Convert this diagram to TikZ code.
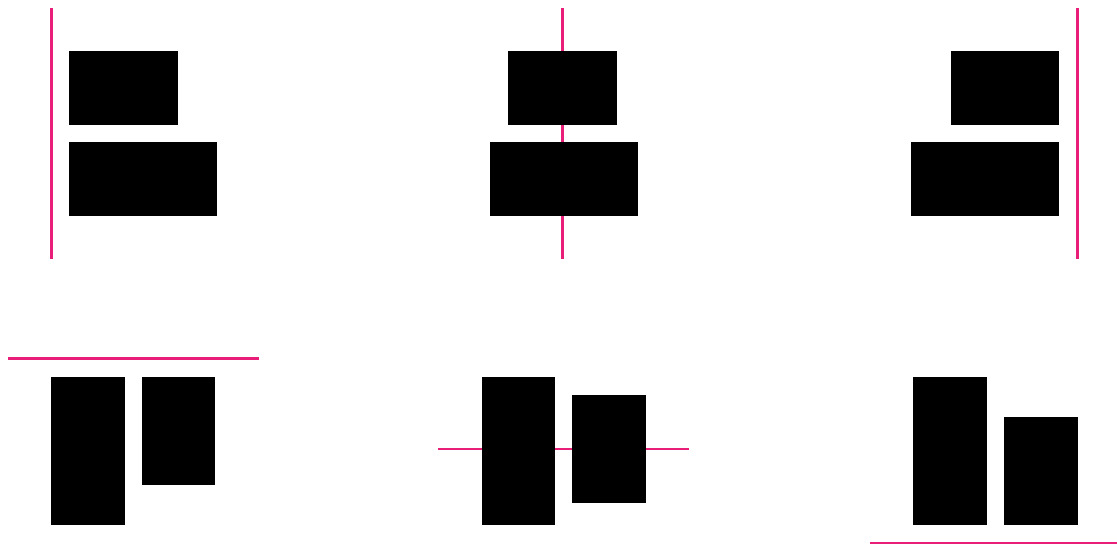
\documentclass[tikz,border=0pt]{standalone}
\definecolor{guide}{RGB}{233,30,120}
\tikzset{
  blk/.style={fill=black,draw=none},
  guideline/.style={draw=guide,line width=2.6pt}
}
\begin{document}
\begin{tikzpicture}[x=1pt,y=-1pt]
\useasboundingbox (0,0) rectangle (1117,546);
% panel 1: left aligned
\draw[guideline] (51.3,8) coordinate (l1a) -- (51.3,259) coordinate (l1b);
\fill[blk] (69.3,51.3) rectangle (177.7,125.3) coordinate (r1a);
\fill[blk] (69.3,141.7) rectangle (217.3,215.7) coordinate (r1b);
% panel 2: centered
\draw[guideline] (562.7,8) coordinate (l2a) -- (562.7,259) coordinate (l2b);
\fill[blk] (508.3,51.3) rectangle (616.7,125.3);
\fill[blk] (490.3,141.7) rectangle (638.3,215.7);
% panel 3: right aligned
\draw[guideline] (1077.3,8) coordinate (l3a) -- (1077.3,259) coordinate (l3b);
\fill[blk] (951.3,51.3) rectangle (1059.3,125.3);
\fill[blk] (911.3,141.7) rectangle (1059.3,215.7);
% panel 4: top aligned
\draw[guideline] (8,358.7) coordinate (l4a) -- (258.7,358.7) coordinate (l4b);
\fill[blk] (51,377) rectangle (125.3,525);
\fill[blk] (141.7,377) rectangle (215.3,485);
% panel 5: middle aligned
\draw[guideline] (438.3,449) coordinate (l5a) -- (689.3,449) coordinate (l5b);
\fill[blk] (481.7,377) rectangle (555.3,525);
\fill[blk] (571.7,395) rectangle (645.7,503.3);
% panel 6: bottom aligned
\draw[guideline] (870,543) coordinate (l6a) -- (1117,543) coordinate (l6b);
\fill[blk] (913.3,377) rectangle (987.3,525);
\fill[blk] (1003.7,416.7) rectangle (1077.7,525);
\end{tikzpicture}
\end{document}
